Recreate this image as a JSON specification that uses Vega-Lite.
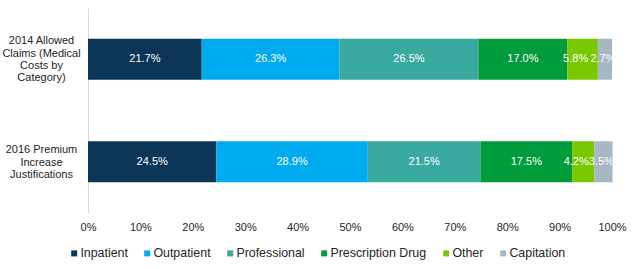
{
  "$schema": "https://vega.github.io/schema/vega-lite/v6.json",
  "width": 524,
  "height": 205,
  "autosize": {"type": "none"},
  "padding": {"left": 88, "top": 8, "right": 21, "bottom": 56},
  "background": "white",
  "config": {
    "view": {"stroke": null},
    "font": "Liberation Sans"
  },
  "data": {
    "values": [
      {"group": "2014 Allowed|Claims (Medical|Costs by|Category)", "category": "Inpatient", "k": 1, "value": 21.7},
      {"group": "2014 Allowed|Claims (Medical|Costs by|Category)", "category": "Outpatient", "k": 2, "value": 26.3},
      {"group": "2014 Allowed|Claims (Medical|Costs by|Category)", "category": "Professional", "k": 3, "value": 26.5},
      {"group": "2014 Allowed|Claims (Medical|Costs by|Category)", "category": "Prescription Drug", "k": 4, "value": 17.0},
      {"group": "2014 Allowed|Claims (Medical|Costs by|Category)", "category": "Other", "k": 5, "value": 5.8},
      {"group": "2014 Allowed|Claims (Medical|Costs by|Category)", "category": "Capitation", "k": 6, "value": 2.7},
      {"group": "2016 Premium|Increase|Justifications", "category": "Inpatient", "k": 1, "value": 24.5},
      {"group": "2016 Premium|Increase|Justifications", "category": "Outpatient", "k": 2, "value": 28.9},
      {"group": "2016 Premium|Increase|Justifications", "category": "Professional", "k": 3, "value": 21.5},
      {"group": "2016 Premium|Increase|Justifications", "category": "Prescription Drug", "k": 4, "value": 17.5},
      {"group": "2016 Premium|Increase|Justifications", "category": "Other", "k": 5, "value": 4.2},
      {"group": "2016 Premium|Increase|Justifications", "category": "Capitation", "k": 6, "value": 3.5}
    ]
  },
  "transform": [
    {"stack": "value", "groupby": ["group"], "sort": [{"field": "k", "order": "ascending"}], "as": ["x0", "x1"]},
    {"calculate": "(datum.x0 + datum.x1) / 2", "as": "xmid"}
  ],
  "encoding": {
    "y": {
      "field": "group",
      "type": "nominal",
      "sort": null,
      "title": null,
      "scale": {"paddingInner": 0.6, "paddingOuter": 0.3},
      "axis": {
        "labelExpr": "split(datum.label, '|')",
        "labelAlign": "center",
        "labelBaseline": "middle",
        "labelPadding": 47,
        "labelFontSize": 11,
        "labelLineHeight": 12.4,
        "labelColor": "#262626",
        "labelOffset": {
          "condition": {"test": "indexof(datum.label, 'Category') >= 0", "value": -18},
          "value": -11.5
        },
        "ticks": false,
        "domain": true,
        "domainColor": "#d9d9d9",
        "domainWidth": 1,
        "grid": false,
        "labelLimit": 0
      }
    }
  },
  "layer": [
    {
      "mark": {"type": "bar"},
      "encoding": {
        "x": {
          "field": "x0",
          "type": "quantitative",
          "scale": {"domain": [0, 100], "nice": false},
          "title": null,
          "axis": {
            "values": [0, 10, 20, 30, 40, 50, 60, 70, 80, 90, 100],
            "labelExpr": "datum.value + '%'",
            "grid": false,
            "ticks": false,
            "domain": false,
            "labelPadding": 8,
            "labelFontSize": 11,
            "labelColor": "#262626",
            "labelFlush": false
          }
        },
        "x2": {"field": "x1"},
        "color": {
          "field": "category",
          "type": "nominal",
          "scale": {
            "domain": ["Inpatient", "Outpatient", "Professional", "Prescription Drug", "Other", "Capitation"],
            "range": ["#0b3658", "#00aaef", "#3aa99f", "#009b3a", "#7ac800", "#a7b8c4"]
          },
          "legend": {
            "title": null,
            "orient": "none",
            "direction": "horizontal",
            "legendX": -20,
            "legendY": 239,
            "symbolType": "square",
            "symbolSize": 36,
            "symbolStrokeWidth": 0,
            "labelFontSize": 12.4,
            "labelColor": "#262626",
            "labelOffset": 0,
            "columnPadding": 13,
            "labelLimit": 0
          }
        }
      }
    },
    {
      "mark": {
        "type": "text",
        "color": "white",
        "fontSize": 11,
        "align": "center",
        "baseline": "middle",
        "clip": true,
        "text": {"expr": "format(datum.value, '.1f') + '%'"},
        "dx": {"expr": "datum.category == 'Other' ? -7 : datum.category == 'Capitation' ? -2 : 0"}
      },
      "encoding": {
        "x": {"field": "xmid", "type": "quantitative"}
      }
    }
  ]
}
